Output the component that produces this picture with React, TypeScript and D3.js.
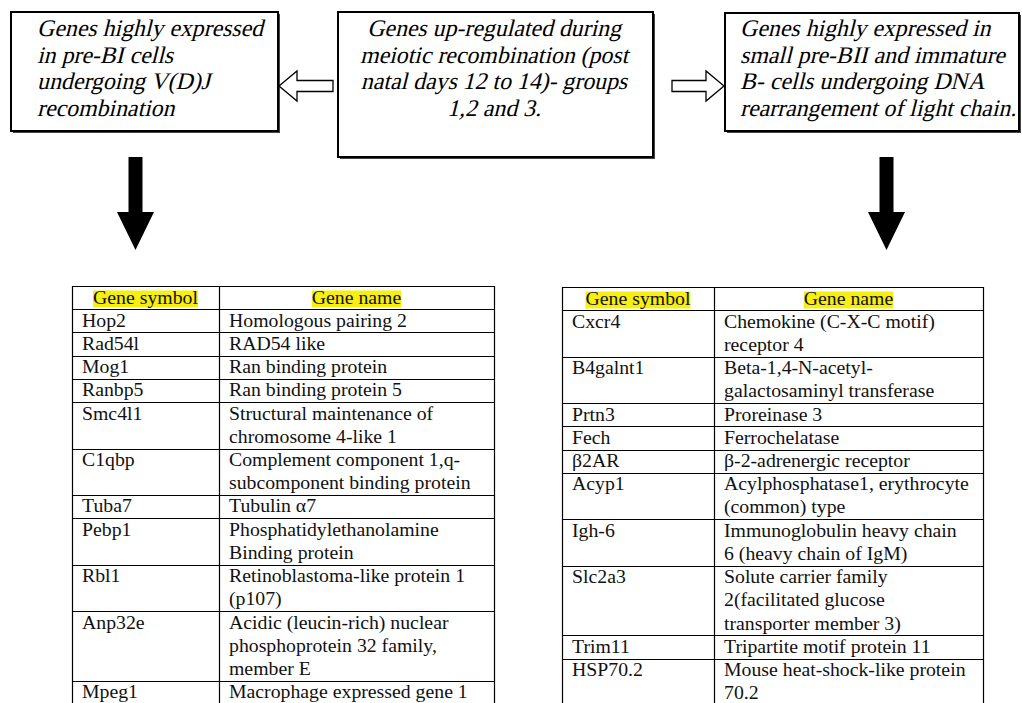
import { useEffect, useRef } from 'react';
import * as d3 from 'd3';

// top boxes, one entry per printed line
const leftBoxLines = ['Genes highly expressed', 'in pre-BI cells', 'undergoing V(D)J', 'recombination'];
const centerBoxLines = ['Genes up-regulated during', 'meiotic recombination (post', 'natal days 12 to 14)- groups', '1,2 and 3.'];
const rightBoxLines = ['Genes highly expressed in', 'small pre-BII and immature', 'B- cells undergoing DNA', 'rearrangement of light chain.'];

const headers = ['Gene symbol', 'Gene name'];

const leftSymbols = ['Hop2', 'Rad54l', 'Mog1', 'Ranbp5', 'Smc4l1', 'C1qbp', 'Tuba7', 'Pebp1', 'Rbl1', 'Anp32e', 'Mpeg1'];
const leftNames = [
  ['Homologous pairing 2'],
  ['RAD54 like'],
  ['Ran binding protein'],
  ['Ran binding protein 5'],
  ['Structural maintenance of', 'chromosome 4-like 1'],
  ['Complement component 1,q-', 'subcomponent binding protein'],
  ['Tubulin \u03b17'],
  ['Phosphatidylethanolamine', 'Binding protein'],
  ['Retinoblastoma-like protein 1', '(p107)'],
  ['Acidic (leucin-rich) nuclear', 'phosphoprotein 32 family,', 'member E'],
  ['Macrophage expressed gene 1'],
];

const rightSymbols = ['Cxcr4', 'B4galnt1', 'Prtn3', 'Fech', '\u03b22AR', 'Acyp1', 'Igh-6', 'Slc2a3', 'Trim11', 'HSP70.2'];
const rightNames = [
  ['Chemokine (C-X-C motif)', 'receptor 4'],
  ['Beta-1,4-N-acetyl-', 'galactosaminyl transferase'],
  ['Proreinase 3'],
  ['Ferrochelatase'],
  ['\u03b2-2-adrenergic receptor'],
  ['Acylphosphatase1, erythrocyte', '(common) type'],
  ['Immunoglobulin heavy chain', '6 (heavy chain of IgM)'],
  ['Solute carrier family', '2(facilitated glucose', 'transporter member 3)'],
  ['Tripartite motif protein 11'],
  ['Mouse heat-shock-like protein', '70.2'],
];

const width = 1022;
const height = 703;
const serifFont = 'Liberation Serif, "DejaVu Serif", serif';

const App = () => {
  const svgRef = useRef<SVGSVGElement | null>(null);

  useEffect(() => {
    const svg = d3.select(svgRef.current);
    svg.selectAll('*').remove();
    svg.append('rect').attr('width', width).attr('height', height).attr('fill', '#fff');

    // pick a font size so a reference string gets the width it has in the picture
    const fitSize = (sample: string, target: number) => {
      const t = svg.append('text')
        .attr('font-family', serifFont)
        .attr('font-size', 20)
        .text(sample);
      const w = (t.node() as SVGTextElement).getComputedTextLength();
      t.remove();
      return w > 0 ? (20 * target) / w : 20;
    };
    // italic face is not installed, so the box text is the upright face slanted
    const boxSize = Math.min(fitSize('Genes highly expressed', 226), 24);
    const tableSize = fitSize('Homologous pairing 2', 178);

    // ---- top boxes ----
    const lineY = d3.scaleLinear().domain([0, 1]).range([36, 62.5]);

    const drawBox = (x0: number, y0: number, x1: number, y1: number, lines: string[], tx: number, anchor: string) => {
      const g = svg.append('g');
      g.append('rect')
        .attr('x', x0 + 2).attr('y', y0 + 2)
        .attr('width', x1 - x0).attr('height', y1 - y0)
        .attr('fill', '#444');
      g.append('rect')
        .attr('x', x0).attr('y', y0)
        .attr('width', x1 - x0).attr('height', y1 - y0)
        .attr('fill', '#fff').attr('stroke', '#000').attr('stroke-width', 2);
      g.selectAll('text')
        .data(lines)
        .enter().append('text')
        .attr('transform', (_, i) => `translate(${tx},${lineY(i)}) skewX(-14)`)
        .attr('text-anchor', anchor)
        .attr('font-family', serifFont)
        .attr('font-size', boxSize)
        .attr('fill', '#000')
        .text((d) => d);
    };

    drawBox(11, 12, 278, 131, leftBoxLines, 37, 'start');
    drawBox(338, 12, 653, 157, centerBoxLines, 494, 'middle');
    drawBox(725, 13, 1019, 131, rightBoxLines, 740, 'start');

    // ---- hollow side arrows ----
    const hollow = (tip: number, tail: number, cy: number) => {
      const dir = Math.sign(tail - tip);
      const headEnd = tip + dir * 18;
      const pts: [number, number][] = [
        [tip, cy], [headEnd, cy - 15], [headEnd, cy - 5.5], [tail, cy - 5.5],
        [tail, cy + 5.5], [headEnd, cy + 5.5], [headEnd, cy + 15],
      ];
      svg.append('path')
        .attr('d', d3.line()(pts) + 'Z')
        .attr('fill', '#fff').attr('stroke', '#000').attr('stroke-width', 1.3);
    };
    hollow(279, 333, 86);
    hollow(724, 672, 86);

    // ---- solid down arrows ----
    const solid = (cx: number) => {
      const pts: [number, number][] = [
        [cx - 7, 157], [cx + 7, 157], [cx + 7, 212], [cx + 18.5, 212],
        [cx, 250], [cx - 18.5, 212], [cx - 7, 212],
      ];
      svg.append('path').attr('d', d3.line()(pts) + 'Z').attr('fill', '#000');
    };
    solid(135.5);
    solid(886.5);

    // ---- tables ----
    const lineH = 23.22;

    const drawTable = (x0: number, xm: number, x1: number, top: number, symbols: string[], names: string[][]) => {
      const counts = [1, ...names.map((n) => n.length)];
      const starts = d3.cumsum([0, ...counts]);
      const total = starts[starts.length - 1];
      const y = d3.scaleLinear().domain([0, total]).range([top, top + total * lineH]);
      const g = svg.append('g');

      // horizontal rules
      g.selectAll('line.h')
        .data(Array.from(starts))
        .enter().append('line')
        .attr('x1', x0).attr('x2', x1)
        .attr('y1', (d) => Math.round(y(d)) + 0.5)
        .attr('y2', (d) => Math.round(y(d)) + 0.5)
        .attr('stroke', '#000').attr('stroke-width', 1.2);

      // vertical rules
      g.selectAll('line.v')
        .data([x0, xm, x1])
        .enter().append('line')
        .attr('x1', (d) => d + 0.5).attr('x2', (d) => d + 0.5)
        .attr('y1', y(0)).attr('y2', y(total))
        .attr('stroke', '#000').attr('stroke-width', 1.2);

      // header with yellow highlight
      const hx = [(x0 + xm) / 2, (xm + x1) / 2];
      headers.forEach((h, i) => {
        const t = g.append('text')
          .attr('x', hx[i]).attr('y', y(0) + 17.5)
          .attr('text-anchor', 'middle')
          .attr('font-family', serifFont).attr('font-size', tableSize)
          .attr('fill', '#111')
          .text(h);
        const w = (t.node() as SVGTextElement).getComputedTextLength();
        g.insert('rect', 'text')
          .attr('x', hx[i] - w / 2).attr('y', y(0) + 4.5)
          .attr('width', w).attr('height', 17)
          .attr('fill', '#f7ee12');
      });

      // body rows
      symbols.forEach((s, r) => {
        const row0 = starts[r + 1];
        g.append('text')
          .attr('x', x0 + 10).attr('y', y(row0) + 17.5)
          .attr('font-family', serifFont).attr('font-size', tableSize)
          .attr('fill', '#111')
          .text(s);
        names[r].forEach((ln, k) => {
          g.append('text')
            .attr('x', xm + 10).attr('y', y(row0 + k) + 17.5)
            .attr('font-family', serifFont).attr('font-size', tableSize)
            .attr('fill', '#111')
            .text(ln);
        });
      });
    };

    drawTable(72, 219, 494, 286, leftSymbols, leftNames);
    drawTable(562, 714, 983, 287, rightSymbols, rightNames);
  }, []);

  return (
    <svg
      ref={svgRef}
      width={width}
      height={height}
      style={{ position: 'absolute', left: 0, top: 0, display: 'block' }}
    ></svg>
  );
};

export default App;
